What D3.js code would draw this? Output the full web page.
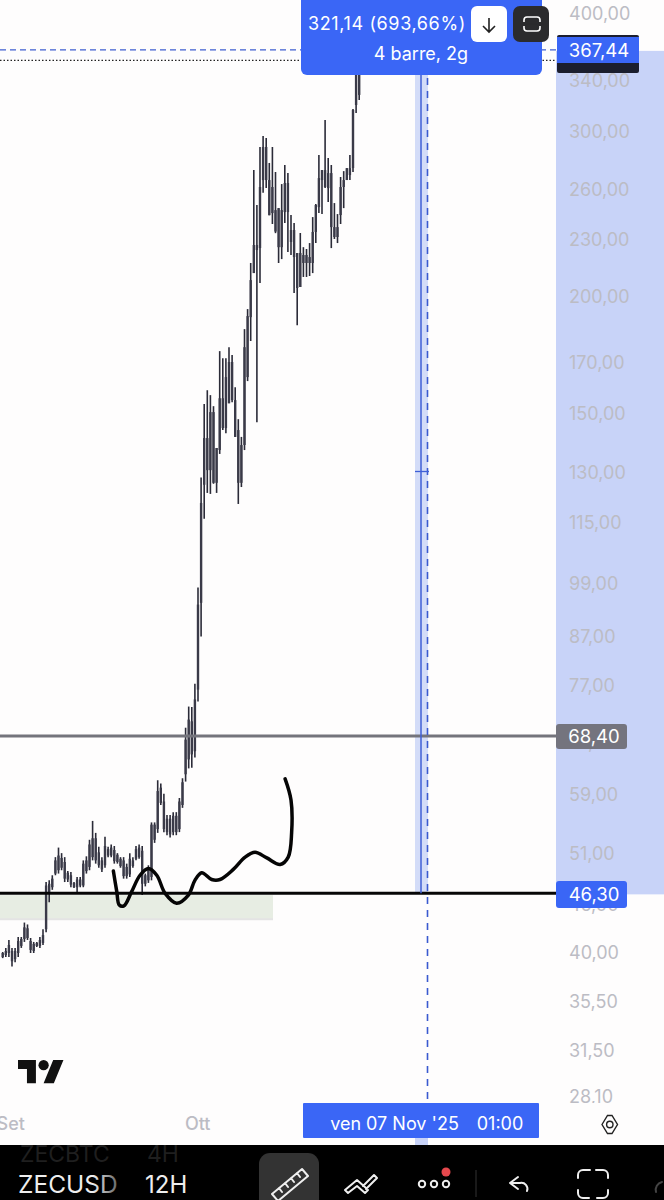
<!DOCTYPE html>
<html><head><meta charset="utf-8">
<script src="https://cdn.jsdelivr.net/npm/d3@7"></script>
<style>html,body{margin:0;padding:0;background:#000;overflow:hidden}svg{display:block}text{font-family:Inter,"Noto Sans",sans-serif}</style>
</head><body><svg id="c" width="664" height="1200"></svg>
<script>
const high=[40.1,40.5,41.3,40.5,40.5,41.6,41.6,43.1,42.9,41.5,41.1,41.1,41.6,42.4,47.6,47.8,48.4,50.6,51.8,51.1,50.6,48.9,48.8,47.6,48.2,48.2,50.2,50.7,52.8,55.3,53.7,51.9,50.6,53.2,51.9,52.2,52.0,51.1,50.6,50.6,49.8,51.1,50.6,52.0,52.2,52.0,48.6,49.6,55.1,55.1,61.1,60.6,59.1,56.1,56.1,56.5,56.5,58.5,61.4,69.5,73.2,73.1,77.4,98.0,128.4,153.7,159,157.1,152.9,138,175,172,172,176.7,173.3,160.2,148.1,141.8,184.7,194,217.2,272.8,250.4,288.7,296.6,295.1,277.6,288.7,271.5,248.5,263.6,276.2,270.8,244.3,239.6,222.6,233.8,225.8,224.8,228.1,243.1,251,283.1,272.8,308.4,281,276.2,251.6,244.9,268.2,272.1,274.1,283.1,316.9,376,384];
const low=[39.5,39.6,39.6,38.7,39.1,39.6,40.5,41.1,41.3,40.0,40.0,40.6,40.5,40.8,42.1,45.3,46.7,48.4,48.6,49.0,47.6,47.6,47.0,46.9,46.3,47.0,47.0,48.6,49.0,50.2,49.8,49.3,48.8,49.3,50.6,50.6,49.8,49.8,49.3,48.0,48.0,48.2,49.3,50.2,50.4,46.1,47.1,47.5,47.8,52.4,53.7,57.5,53.8,53.4,53.1,53.4,53.4,53.8,57.1,60.9,62.9,63.0,64.6,74.1,86.9,116,123.6,123.3,126.4,123.6,136,144.2,143.1,154,154.4,141.8,120.3,125.4,137.3,162.6,179.4,211.9,147,206.8,258,261,244.2,239,233.7,217.2,219.3,239.6,223.1,221.5,201.8,186.5,204.8,209.9,209.9,210.4,211.9,228.1,245.5,244.9,261,252.2,225.3,230.4,228.1,239,248.5,266.2,266.2,271.5,313.7,323.9];
const bodyTop=[40.0,40.2,40.8,40.2,40.2,41.2,41.4,42.6,42.5,41.2,40.9,41.0,41.3,41.8,47.2,47.4,48.0,50.2,50.8,50.5,50.0,48.7,48.4,47.5,47.9,47.9,49.8,50.2,52.2,53.0,53.0,51.2,50.2,52.0,51.6,51.8,51.5,50.9,50.4,50.2,49.4,50.4,50.2,51.6,51.8,51.4,48.4,49.3,54.8,54.8,59.5,60.0,58.0,55.6,55.6,56.0,56.0,58.0,60.8,67.5,70.9,70.6,74.5,94.0,120.6,141.4,141.4,150.7,150.7,138,155.9,155.9,164.2,170.4,170.4,155.2,144.2,139,176.7,190.7,208.3,227,227,261.7,288.7,288.7,266.2,261.7,247.3,248.5,247.3,264.3,264.3,235.5,235.5,222.6,222.6,221.5,221.5,220.4,234.4,250.4,267.5,272.8,272.8,270.8,270.8,237.2,237.2,261.7,266.2,274.1,274.1,316.1,357,375];
const bodyBottom=[39.6,39.8,40.0,39.2,39.4,40.0,40.7,41.4,41.5,40.3,40.2,40.7,40.7,41.0,42.4,46.3,47.0,48.6,49.0,49.3,48.0,47.9,47.3,47.0,47.0,47.2,47.2,48.9,49.4,50.6,50.2,49.6,49.1,49.6,50.8,50.8,50.1,50.0,49.5,48.3,48.3,48.5,49.5,50.4,50.6,47.4,47.4,47.8,48.2,52.8,54.2,57.8,54.2,53.8,53.5,53.8,53.8,54.2,57.5,62.0,64.3,65.1,65.6,76.3,94.4,126.1,130.7,130.7,126.7,126.7,137.3,144.9,144.9,154,155.2,141.8,126.7,126.7,139,164.2,190.2,211.9,224.2,225.3,266.2,266.2,244.2,245.5,234.6,225.8,225.8,246.1,246.1,228.7,220.4,204.3,204.8,217.2,217.2,217.2,217.2,234.4,249.1,266.2,261.7,261,237.2,231.5,231.5,244.3,261.7,266.2,269.5,274.1,320,328];
const tickValues=[400,340,300,260,230,200,170,150,130,115,99,87,77,67,59,51,45,40,35.5,31.5,28.1];
const tickLabels=["400,00","340,00","300,00","260,00","230,00","200,00","170,00","150,00","130,00","115,00","99,00","87,00","77,00","67,00","59,00","51,00","45,00","40,00","35,50","31,50","28,10"];
const timeLabels=["Set","Ott"];
const timeBars=[2.6,62.9];
const sketchBar=[35.7,36.8,37.6,39.1,41.6,44.3,47,49.7,52.4,56.1,59.9,62,64.2,67.4,70.1,74.4,78.2,81.4,85.2,89.5,92.1,93.2,93,91.1];
const sketchPrice=[48.9,46.5,45,44.9,46.5,48.4,49.2,48.4,46.3,45.2,46.1,47.8,48.7,47.9,47.9,49.1,50.6,51.2,50.5,49.7,50.6,53.7,58.2,61.3];
const zone={endBar:87.2,top:46.1,bottom:43.4};
const priceLines={measure:366.3,last:357,grey:68.1,black:46.3};
const BLUE="#3a66f6";

const svg=d3.select("#c");
const x=d3.scaleLinear().domain([0,115]).range([2.7,359.2]);
const y=d3.scaleLog().domain([400,28.1]).range([14,1097]);
const R=(g,a,b,c,d,f,r)=>g.append("rect").attr("x",a).attr("y",b).attr("width",c).attr("height",d).attr("fill",f).attr("rx",r||0);

R(svg,0,0,664,1145,"#fefdfd");
R(svg,556,y(priceLines.measure)+1,108,y(priceLines.black)-y(priceLines.measure),"#c8d3f8");
R(svg,415,y(priceLines.measure),13,y(priceLines.black)-y(priceLines.measure),"#d3dcf8");
R(svg,415,1138,13,7,"#c8d3f8");
R(svg,0,y(zone.top),x(zone.endBar),y(zone.bottom)-y(zone.top),"#e7ede3");
R(svg,0,y(zone.bottom)-1.5,x(zone.endBar),2,"#e4e4e4");

const g=svg.append("g").attr("stroke","#2b2b38");
g.selectAll(".w").data(high).join("line").attr("x1",(d,i)=>x(i)).attr("x2",(d,i)=>x(i))
 .attr("y1",d=>y(d)).attr("y2",(d,i)=>y(low[i])).attr("stroke-width",1.6);
g.selectAll(".b").data(bodyTop).join("line").attr("x1",(d,i)=>x(i)).attr("x2",(d,i)=>x(i))
 .attr("y1",d=>y(d)).attr("y2",(d,i)=>y(bodyBottom[i])).attr("stroke-width",2.4).attr("stroke","#3a3a48");

const H=(p,c,w,dash)=>svg.append("line").attr("x1",0).attr("x2",556).attr("y1",y(p)).attr("y2",y(p)).attr("stroke",c).attr("stroke-width",w).attr("stroke-dasharray",dash||null);
H(priceLines.measure,"#3f5fcf",1.3,"6 4");
H(priceLines.last,"#222",1.3,"1.5 2");
H(priceLines.grey,"#74747c",3);
H(priceLines.black,"#060606",3);
svg.append("line").attr("x1",421).attr("x2",421).attr("y1",y(priceLines.last)).attr("y2",y(priceLines.black)).attr("stroke","#3f5fd6").attr("stroke-width",1.5);
svg.append("line").attr("x1",427.5).attr("x2",427.5).attr("y1",0).attr("y2",1103).attr("stroke","#3a5ad0").attr("stroke-width",1.6).attr("stroke-dasharray","7 6");
svg.append("line").attr("x1",415).attr("x2",429).attr("y1",471.5).attr("y2",471.5).attr("stroke","#3f5fd6").attr("stroke-width",1.3);

svg.append("path").attr("fill","none").attr("stroke","#050505").attr("stroke-width",3.5).attr("stroke-linecap","round")
 .attr("d",d3.line().x(d=>x(d[0])).y(d=>y(d[1])).curve(d3.curveCatmullRom)(sketchBar.map((b,i)=>[b,sketchPrice[i]])));

svg.append("defs").append("clipPath").attr("id","ax").append("rect").attr("x",0).attr("y",0).attr("width",664).attr("height",1103);
const ax=svg.append("g").attr("clip-path","url(#ax)");
ax.selectAll("text").data(tickValues).join("text").attr("x",569).attr("y",d=>y(d)).attr("dy","0.36em")
 .attr("font-size",18).attr("fill","#bcbcc4").text((d,i)=>tickLabels[i]);

R(svg,557,35,82,38,"#1b1e2e",2);
R(svg,557,37,82,26,BLUE);
const T=(s,a,b,fs,f,anchor,ls)=>svg.append("text").attr("x",a).attr("y",b).attr("dy","0.36em").attr("font-size",fs).attr("fill",f).attr("text-anchor",anchor||"start").attr("letter-spacing",ls||0).text(s);
T("367,44",599,50,18.5,"#fff","middle");
R(svg,556,724,71,25,"#74747e",3);
T("68,40",594,736,18.5,"#fff","middle");
R(svg,556,881,71,27,BLUE,3);
T("46,30",594,894,18.5,"#fff","middle");

R(svg,301,-6,241,81,BLUE,6);
T("321,14 (693,66%)",308,24,18,"#fff","start",0.62);
T("4 barre, 2g",421,54,18,"#fff","middle");
R(svg,471,6,36,36,"#fff",6);
svg.append("path").attr("d","M489 18v14M483 26l6 6 6-6").attr("fill","none").attr("stroke","#222").attr("stroke-width",1.6);
R(svg,513,6,36,36,"#2b2b2d",7);
svg.append("path").attr("d","M524 22v-2a3 3 0 0 1 3-3h10a3 3 0 0 1 3 3v2M524 26v2a3 3 0 0 0 3 3h10a3 3 0 0 0 3-3v-2").attr("fill","none").attr("stroke","#fff").attr("stroke-width",1.6);
svg.append("line").attr("x1",520).attr("x2",544).attr("y1",24).attr("y2",24).attr("stroke","#2b2b2d");

R(svg,303,1103,236,35,BLUE,1);
T("ven 07 Nov '25",394.5,1124,18,"#fff","middle");
T("01:00",500,1124,18,"#fff","middle");
svg.selectAll(".t").data(timeLabels).join("text").attr("x",(d,i)=>x(timeBars[i])).attr("y",1124).attr("dy","0.36em")
 .attr("text-anchor","middle").attr("font-size",18).attr("font-weight",500).attr("fill","#bcbcc4").text(d=>d);

svg.append("g").attr("transform","translate(18,1055) scale(1.28)").call(s=>{
 s.append("path").attr("d","M14 22H7V11H0V4h14v18zM28 22h-8l7.500-18h8L28 22z").attr("fill","#111");
 s.append("circle").attr("cx",20).attr("cy",8).attr("r",4).attr("fill","#111");
});
svg.append("path").attr("d","M602 1124.500l5.500-9h4.500l5.500 9-5.500 9h-4.500z").attr("fill","none").attr("stroke","#222").attr("stroke-width",1.4);
svg.append("circle").attr("cx",609.8).attr("cy",1124.5).attr("r",3.2).attr("fill","none").attr("stroke","#222").attr("stroke-width",1.4);

R(svg,0,1145,664,55,"#000");
T("ZECBTC",20,1154,23,"#1f1f1f");
T("4H",147,1154,23,"#1f1f1f");
const grad=svg.select("defs").append("linearGradient").attr("id","fade");
grad.append("stop").attr("offset","0.75").attr("stop-color","#eee");
grad.append("stop").attr("offset","1").attr("stop-color","#666");
T("ZECUSD",18,1184,24.5,"url(#fade)");
T("12H",145,1184,24,"#eee");
R(svg,259,1153,60,60,"#333",11);
const ic=svg.append("g").attr("fill","none").attr("stroke","#eee").attr("stroke-width",2).attr("stroke-linecap","round").attr("stroke-linejoin","round");
ic.append("path").attr("d","M272 1194l30-25 6 7-30 25zM279 1188l3 4M285 1183l3 4M291 1178l3 4M297 1173l3 4");
ic.append("path").attr("d","M345 1190l12-10 9 8M345 1190l3 3 9-7 8 7 3-3M363 1186l11-11 3 3-11 11");
ic.selectAll(".d").data([422,434,446]).join("circle").attr("cx",d=>d).attr("cy",1184).attr("r",3.2);
svg.append("circle").attr("cx",446).attr("cy",1172).attr("r",4.5).attr("fill","#e5484d");
svg.append("line").attr("x1",476).attr("x2",476).attr("y1",1170).attr("y2",1197).attr("stroke","#333");
ic.append("path").attr("d","M518 1177l-8 6 8 6M510 1183h10a6 6 0 0 1 7 8");
ic.append("path").attr("d","M578 1178v-3a5 5 0 0 1 5-5h7M596 1170h7a5 5 0 0 1 5 5v3M578 1190v3a5 5 0 0 0 5 5h6M608 1190v3a5 5 0 0 1-5 5h-6");
ic.append("path").attr("d","M656 1192a8 8 0 0 1 6-10").attr("stroke","#444");
</script></body></html>
